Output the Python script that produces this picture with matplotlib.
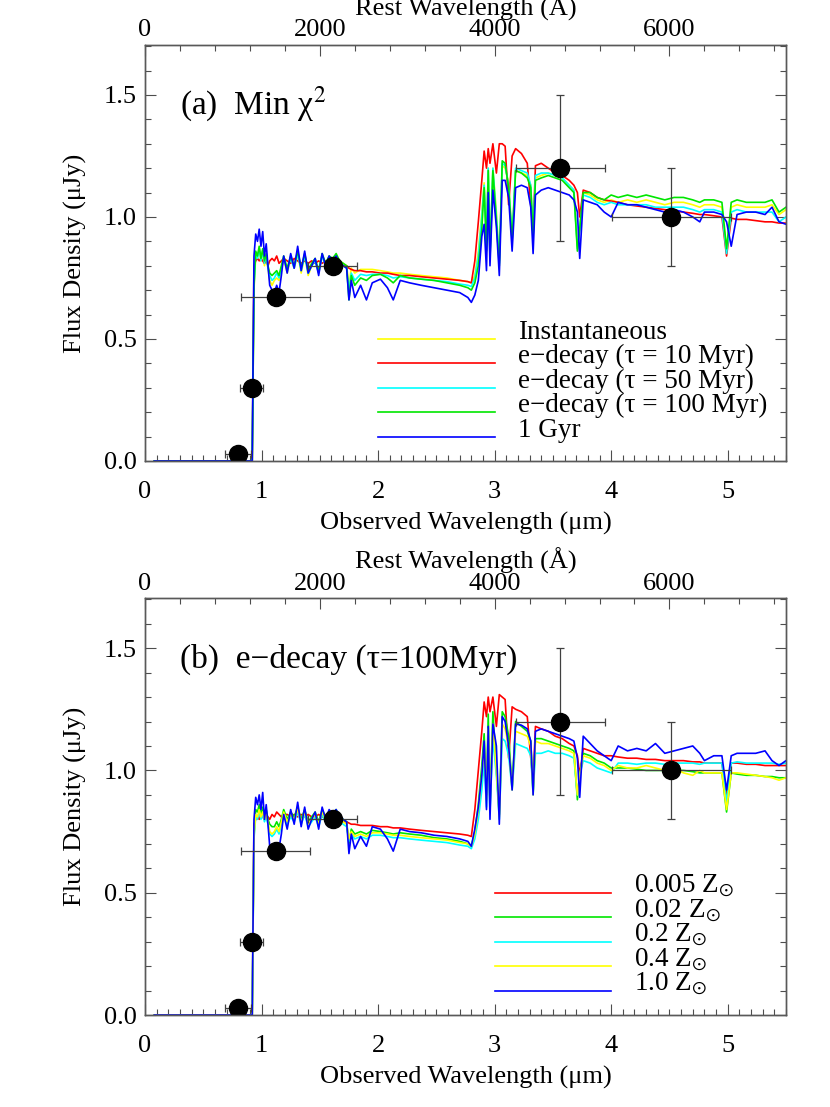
import matplotlib
matplotlib.use("Agg")
import matplotlib.pyplot as plt
from matplotlib.ticker import MultipleLocator

plt.rcParams['font.family'] = ['Liberation Serif', 'DejaVu Serif']
plt.rcParams['mathtext.fontset'] = 'stix'

# redshift for the rest-frame axis on top
zred = 6.5

# observed wavelength grid of the model spectra (micron)
wave = [0.08, 0.92, 0.935, 0.95, 0.965, 0.98, 0.995, 1.01, 1.025, 1.04,
        1.055, 1.07, 1.09, 1.11, 1.13, 1.15, 1.17, 1.19, 1.22, 1.25,
        1.28, 1.31, 1.34, 1.37, 1.40, 1.43, 1.46, 1.49, 1.52, 1.55,
        1.58, 1.61, 1.64, 1.67, 1.70, 1.73, 1.75, 1.77, 1.80, 1.85,
        1.90, 1.95, 2.02, 2.08, 2.13, 2.19, 2.27, 2.37, 2.48, 2.59,
        2.70, 2.77, 2.80, 2.83, 2.86, 2.89, 2.91, 2.93, 2.945, 2.96,
        2.985, 3.015, 3.04, 3.065, 3.09, 3.12, 3.15, 3.18, 3.23, 3.28,
        3.31, 3.33, 3.35, 3.40, 3.46, 3.52, 3.58, 3.64, 3.68, 3.71,
        3.73, 3.76, 3.82, 3.88, 3.94, 4.00, 4.06, 4.14, 4.22, 4.30,
        4.38, 4.46, 4.54, 4.62, 4.70, 4.76, 4.80, 4.88, 4.95, 4.99,
        5.03, 5.08, 5.16, 5.24, 5.32, 5.38, 5.44, 5.50]

# panel (a): star formation histories
a_inst = [0.0, 0.0, 0.70, 0.84, 0.83, 0.87, 0.82, 0.86, 0.80, 0.84,
          0.79, 0.74, 0.72, 0.74, 0.75, 0.74, 0.78, 0.83, 0.77, 0.83,
          0.79, 0.85, 0.77, 0.84, 0.76, 0.80, 0.82, 0.77, 0.84, 0.80,
          0.83, 0.83, 0.84, 0.82, 0.81, 0.80, 0.72, 0.79, 0.77, 0.785,
          0.785, 0.785, 0.78, 0.775, 0.77, 0.77, 0.765, 0.76, 0.755, 0.75,
          0.74, 0.735, 0.73, 0.76, 0.86, 1.02, 1.14, 0.90, 1.20, 0.86,
          1.20, 1.02, 0.82, 1.21, 1.20, 1.14, 0.92, 1.19, 1.18, 1.17,
          1.13, 0.93, 1.16, 1.17, 1.18, 1.17, 1.16, 1.13, 1.11, 0.88,
          0.96, 1.10, 1.09, 1.07, 1.06, 1.07, 1.06, 1.07, 1.06, 1.07,
          1.06, 1.05, 1.06, 1.06, 1.05, 1.04, 1.05, 1.05, 1.04, 0.86,
          1.04, 1.05, 1.04, 1.04, 1.04, 1.05, 1.01, 1.03]
a_tau10 = [0.0, 0.0, 0.80, 0.82, 0.83, 0.82, 0.83, 0.82, 0.81, 0.82,
           0.80, 0.82, 0.83, 0.82, 0.84, 0.81, 0.82, 0.83, 0.82, 0.81,
           0.83, 0.82, 0.81, 0.82, 0.81, 0.82, 0.81, 0.82, 0.81, 0.82,
           0.81, 0.81, 0.80, 0.81, 0.80, 0.80, 0.79, 0.785, 0.78, 0.78,
           0.775, 0.775, 0.77, 0.77, 0.765, 0.76, 0.76, 0.755, 0.75, 0.745,
           0.74, 0.735, 0.73, 0.82, 0.98, 1.15, 1.27, 1.20, 1.28, 1.22,
           1.30, 1.18, 1.30, 1.30, 1.29, 1.05, 1.25, 1.28, 1.26, 1.22,
           1.05, 0.93, 1.21, 1.22, 1.20, 1.18, 1.17, 1.15, 1.13, 1.10,
           1.00, 1.11, 1.10, 1.08, 1.07, 1.065, 1.06, 1.05, 1.045, 1.04,
           1.035, 1.03, 1.025, 1.02, 1.015, 1.01, 1.01, 1.005, 1.0, 0.84,
           0.995, 0.99, 0.99, 0.985, 0.98, 0.98, 0.975, 0.975]
a_tau50 = [0.0, 0.0, 0.71, 0.85, 0.83, 0.87, 0.82, 0.86, 0.81, 0.84,
           0.79, 0.76, 0.74, 0.75, 0.77, 0.75, 0.79, 0.83, 0.78, 0.83,
           0.79, 0.85, 0.78, 0.84, 0.77, 0.80, 0.82, 0.77, 0.84, 0.80,
           0.83, 0.82, 0.84, 0.82, 0.80, 0.79, 0.70, 0.77, 0.74, 0.765,
           0.76, 0.765, 0.765, 0.76, 0.75, 0.755, 0.75, 0.745, 0.74, 0.735,
           0.725, 0.72, 0.715, 0.75, 0.84, 1.00, 1.13, 0.88, 1.20, 0.85,
           1.20, 1.00, 0.81, 1.22, 1.21, 1.13, 0.91, 1.20, 1.19, 1.18,
           1.13, 0.92, 1.17, 1.18, 1.18, 1.17, 1.16, 1.13, 1.11, 0.87,
           0.95, 1.09, 1.08, 1.06, 1.05, 1.06, 1.05, 1.05, 1.05, 1.05,
           1.04, 1.04, 1.04, 1.04, 1.03, 1.02, 1.03, 1.03, 1.02, 0.85,
           1.02, 1.03, 1.02, 1.02, 1.02, 1.02, 0.98, 1.00]
a_tau100 = [0.0, 0.0, 0.72, 0.86, 0.84, 0.88, 0.83, 0.87, 0.82, 0.85,
            0.80, 0.77, 0.76, 0.77, 0.78, 0.76, 0.80, 0.84, 0.79, 0.84,
            0.80, 0.86, 0.79, 0.85, 0.78, 0.81, 0.83, 0.78, 0.85, 0.81,
            0.84, 0.83, 0.85, 0.82, 0.81, 0.80, 0.66, 0.76, 0.72, 0.75,
            0.74, 0.76, 0.765, 0.75, 0.73, 0.76, 0.75, 0.745, 0.74, 0.73,
            0.72, 0.71, 0.70, 0.73, 0.80, 0.95, 1.12, 0.86, 1.19, 0.83,
            1.19, 0.98, 0.80, 1.23, 1.22, 1.12, 0.90, 1.19, 1.18, 1.16,
            1.12, 0.92, 1.15, 1.16, 1.17, 1.16, 1.15, 1.12, 1.10, 0.86,
            0.95, 1.10, 1.10, 1.08, 1.07, 1.09, 1.08, 1.09, 1.08, 1.09,
            1.08, 1.07, 1.08, 1.08, 1.07, 1.06, 1.07, 1.07, 1.06, 0.87,
            1.06, 1.07, 1.06, 1.06, 1.06, 1.07, 1.02, 1.04]
a_1gyr = [0.0, 0.0, 0.84, 0.93, 0.90, 0.95, 0.88, 0.94, 0.84, 0.89,
          0.80, 0.72, 0.70, 0.69, 0.72, 0.69, 0.76, 0.84, 0.77, 0.85,
          0.79, 0.88, 0.78, 0.86, 0.77, 0.80, 0.83, 0.76, 0.85, 0.80,
          0.84, 0.82, 0.84, 0.81, 0.80, 0.79, 0.66, 0.74, 0.67, 0.72,
          0.66, 0.73, 0.745, 0.71, 0.66, 0.74, 0.73, 0.72, 0.71, 0.70,
          0.69, 0.67, 0.65, 0.68, 0.74, 0.92, 0.97, 0.78, 1.10, 0.80,
          1.11, 0.96, 0.76, 1.15, 1.15, 1.08, 0.86, 1.12, 1.13, 1.12,
          1.04, 0.85, 1.09, 1.11, 1.12, 1.11, 1.10, 1.09, 1.07, 1.02,
          0.83, 1.07, 1.06, 1.05, 1.02, 1.00, 1.06, 1.05, 1.05, 1.04,
          1.03, 1.02, 1.03, 1.02, 1.00, 0.98, 1.02, 1.02, 1.01, 0.98,
          0.88, 1.01, 1.02, 1.02, 1.01, 1.04, 0.98, 0.97]

# panel (b): metallicities, tau = 100 Myr
b_z005 = [0.0, 0.0, 0.78, 0.80, 0.81, 0.80, 0.82, 0.81, 0.80, 0.82,
          0.81, 0.80, 0.82, 0.81, 0.83, 0.82, 0.81, 0.82, 0.82, 0.81,
          0.82, 0.81, 0.82, 0.81, 0.82, 0.81, 0.81, 0.82, 0.81, 0.81,
          0.81, 0.80, 0.80, 0.80, 0.79, 0.79, 0.785, 0.78, 0.78, 0.775,
          0.775, 0.775, 0.77, 0.77, 0.765, 0.765, 0.76, 0.755, 0.75, 0.745,
          0.74, 0.735, 0.73, 0.84, 1.00, 1.16, 1.28, 1.22, 1.30, 1.24,
          1.30, 1.18, 1.31, 1.30, 1.29, 1.05, 1.26, 1.25, 1.24, 1.22,
          1.05, 0.95, 1.18, 1.17, 1.16, 1.14, 1.13, 1.11, 1.10, 1.06,
          0.98, 1.09, 1.08, 1.07, 1.06, 1.06, 1.055, 1.05, 1.05, 1.045,
          1.045, 1.04, 1.04, 1.04, 1.035, 1.035, 1.03, 1.03, 1.03, 0.90,
          1.03, 1.03, 1.025, 1.025, 1.02, 1.02, 1.02, 1.02]
b_z02 = [0.0, 0.0, 0.74, 0.84, 0.83, 0.86, 0.82, 0.85, 0.81, 0.84,
         0.80, 0.78, 0.77, 0.77, 0.79, 0.77, 0.80, 0.84, 0.80, 0.83,
         0.81, 0.85, 0.80, 0.84, 0.79, 0.81, 0.83, 0.79, 0.84, 0.81,
         0.83, 0.82, 0.84, 0.81, 0.80, 0.79, 0.70, 0.76, 0.74, 0.75,
         0.74, 0.755, 0.75, 0.745, 0.74, 0.745, 0.74, 0.735, 0.725, 0.72,
         0.71, 0.70, 0.69, 0.75, 0.86, 1.02, 1.15, 0.90, 1.23, 0.86,
         1.24, 1.00, 0.82, 1.24, 1.22, 1.14, 0.93, 1.20, 1.18, 1.16,
         1.12, 0.91, 1.13, 1.13, 1.12, 1.11, 1.10, 1.09, 1.08, 0.88,
         0.98, 1.07, 1.06, 1.04, 1.03, 1.01, 1.01, 1.01, 1.005, 1.0,
         1.0, 1.0, 1.0, 1.0, 0.995, 0.99, 0.99, 0.99, 0.99, 0.83,
         0.99, 0.985, 0.98, 0.98, 0.975, 0.975, 0.97, 0.97]
b_z2 = [0.0, 0.0, 0.72, 0.81, 0.80, 0.83, 0.80, 0.82, 0.79, 0.81,
        0.78, 0.74, 0.73, 0.74, 0.76, 0.74, 0.78, 0.82, 0.78, 0.81,
        0.79, 0.83, 0.78, 0.82, 0.77, 0.79, 0.81, 0.77, 0.82, 0.79,
        0.81, 0.80, 0.82, 0.79, 0.78, 0.77, 0.71, 0.74, 0.72, 0.73,
        0.72, 0.735, 0.735, 0.73, 0.725, 0.725, 0.72, 0.715, 0.71, 0.705,
        0.695, 0.69, 0.68, 0.72, 0.80, 0.92, 1.03, 0.85, 1.10, 0.83,
        1.13, 0.98, 0.80, 1.13, 1.12, 1.06, 0.92, 1.11, 1.10, 1.09,
        1.06, 0.90, 1.07, 1.07, 1.08, 1.07, 1.07, 1.06, 1.05, 0.90,
        0.98, 1.04, 1.03, 1.01, 1.00, 0.99, 1.03, 1.03, 1.025, 1.03,
        1.03, 1.025, 1.03, 1.03, 1.03, 1.025, 1.03, 1.03, 1.03, 0.87,
        1.03, 1.035, 1.03, 1.03, 1.03, 1.03, 1.025, 1.03]
b_z4 = [0.0, 0.0, 0.73, 0.82, 0.81, 0.84, 0.81, 0.83, 0.80, 0.82,
        0.79, 0.75, 0.74, 0.75, 0.77, 0.75, 0.79, 0.83, 0.79, 0.82,
        0.80, 0.84, 0.79, 0.83, 0.78, 0.80, 0.82, 0.78, 0.83, 0.80,
        0.82, 0.81, 0.83, 0.80, 0.79, 0.78, 0.72, 0.75, 0.73, 0.74,
        0.73, 0.745, 0.745, 0.74, 0.735, 0.735, 0.73, 0.725, 0.72, 0.715,
        0.705, 0.70, 0.69, 0.74, 0.84, 0.98, 1.10, 0.88, 1.17, 0.85,
        1.19, 1.00, 0.81, 1.19, 1.17, 1.10, 0.92, 1.16, 1.15, 1.14,
        1.10, 0.90, 1.12, 1.11, 1.11, 1.10, 1.09, 1.08, 1.07, 0.90,
        0.98, 1.06, 1.05, 1.03, 1.02, 1.00, 1.02, 1.01, 1.01, 1.02,
        1.01, 1.00, 1.01, 0.99, 0.98, 1.00, 0.99, 0.99, 0.99, 0.84,
        0.99, 0.99, 0.985, 0.98, 0.975, 0.97, 0.96, 0.97]
b_z10 = [0.0, 0.0, 0.80, 0.89, 0.86, 0.90, 0.84, 0.91, 0.80, 0.86,
         0.78, 0.69, 0.68, 0.68, 0.70, 0.68, 0.74, 0.82, 0.76, 0.84,
         0.78, 0.87, 0.77, 0.85, 0.76, 0.80, 0.83, 0.76, 0.85, 0.80,
         0.84, 0.82, 0.84, 0.81, 0.80, 0.79, 0.66, 0.74, 0.68, 0.73,
         0.69, 0.77, 0.76, 0.72, 0.67, 0.76, 0.75, 0.745, 0.735, 0.73,
         0.72, 0.71, 0.69, 0.76, 0.85, 0.98, 1.12, 0.84, 1.18, 0.80,
         1.19, 1.10, 0.78, 1.22, 1.20, 1.10, 0.92, 1.19, 1.185, 1.17,
         1.12, 0.90, 1.16, 1.17, 1.16, 1.15, 1.14, 1.13, 1.12, 1.05,
         0.89, 1.14, 1.11, 1.08, 1.06, 1.04, 1.10, 1.08, 1.09, 1.08,
         1.11, 1.07, 1.08, 1.09, 1.10, 1.07, 1.04, 1.06, 1.06, 0.92,
         1.06, 1.07, 1.07, 1.07, 1.08, 1.04, 1.02, 1.04]

# photometry
phot_wave = [0.80, 0.915, 1.12, 1.61, 3.565, 4.515]
phot_flux = [0.03, 0.30, 0.67, 0.80, 1.20, 1.00]
phot_xerr = [0.11, 0.10, 0.30, 0.21, 0.385, 0.51]
phot_yerr = [0.0, 0.0, 0.0, 0.0, 0.30, 0.20]

a_labels = ['Instantaneous', 'e\u2212decay (\u03c4 = 10 Myr)', 'e\u2212decay (\u03c4 = 50 Myr)',
            'e\u2212decay (\u03c4 = 100 Myr)', '1 Gyr']
b_labels = [r'0.005 Z$_{\odot}$', r'0.02 Z$_{\odot}$', r'0.2 Z$_{\odot}$',
            r'0.4 Z$_{\odot}$', r'1.0 Z$_{\odot}$']

YEL, RED, CYA, GRN, BLU = '#ffff00', '#ff0000', '#00ffff', '#00e600', '#0000ff'

for s in [a_inst, a_tau10, a_tau50, a_tau100, a_1gyr, b_z005, b_z02, b_z2, b_z4, b_z10]:
    assert len(s) == len(wave)

FS = 19
fig = plt.figure(figsize=(8.3, 11.07), dpi=100)


def panel(rect, series, colors, labels, leg_x, title):
    ax = fig.add_axes(rect)
    for y, c in zip(series, colors):
        ax.plot(wave, y, color=c, lw=1.2)
    ax.errorbar(phot_wave, phot_flux, xerr=phot_xerr, yerr=phot_yerr, fmt='none',
                ecolor='0.25', elinewidth=0.9, capsize=3, capthick=0.9, zorder=4)
    ax.plot(phot_wave, phot_flux, 'o', color='black', ms=13, zorder=5)

    # hand drawn legend in data coordinates
    for i, (c, lab) in enumerate(zip(colors, labels)):
        yy = 0.5 - 0.1 * i
        ax.plot([leg_x, leg_x + 1.0], [yy, yy], color=c, lw=1.2)
        ax.text(leg_x + 1.2, yy, lab, fontsize=19.5, va='baseline', ha='left')
    ax.text(0.3, 1.42, title, fontsize=24, va='baseline', ha='left')

    ax.set_xlim(0, 5.5)
    ax.set_ylim(0, 1.705)
    ax.xaxis.set_major_locator(MultipleLocator(1))
    ax.xaxis.set_minor_locator(MultipleLocator(0.1))
    ax.yaxis.set_major_locator(MultipleLocator(0.5))
    ax.yaxis.set_minor_locator(MultipleLocator(0.1))
    ax.yaxis.set_major_formatter(plt.FormatStrFormatter('%.1f'))
    ax.tick_params(which='both', direction='in', top=False, right=True, labelsize=FS, color='0.3')
    ax.tick_params(which='major', length=8, width=0.8)
    ax.tick_params(which='minor', length=4, width=0.8)
    ax.tick_params(axis='x', pad=14.5)
    ax.tick_params(axis='y', pad=6)
    ax.set_xlabel('Observed Wavelength (\u03bcm)', fontsize=FS, labelpad=6)
    ax.set_ylabel('Flux Density (\u03bcJy)', fontsize=FS, labelpad=12)

    top = ax.twiny()
    top.set_xlim(0, 5.5e4 / (1 + zred))
    top.xaxis.set_major_locator(MultipleLocator(2000))
    top.xaxis.set_minor_locator(MultipleLocator(400))
    top.tick_params(which='both', direction='in', labelsize=FS, color='0.3', pad=2.5)
    top.tick_params(which='major', length=8, width=0.8)
    top.tick_params(which='minor', length=4, width=0.8)
    top.set_xlabel('Rest Wavelength (\u00c5)', fontsize=FS, labelpad=3)
    for a in (ax, top):
        for sp in a.spines.values():
            sp.set_color('0.35')
            sp.set_linewidth(1.0)
    return ax


panel([0.1747, 0.5836, 0.7723, 0.3758], [a_inst, a_tau10, a_tau50, a_tau100, a_1gyr],
      [YEL, RED, CYA, GRN, BLU], a_labels, 2.0, '(a)  Min \u03c7$^2$')
panel([0.1747, 0.0831, 0.7723, 0.3767], [b_z005, b_z02, b_z2, b_z4, b_z10],
      [RED, GRN, CYA, YEL, BLU], b_labels, 3.0, '(b)  e\u2212decay (\u03c4=100Myr)')

fig.savefig('out.png', dpi=100)
